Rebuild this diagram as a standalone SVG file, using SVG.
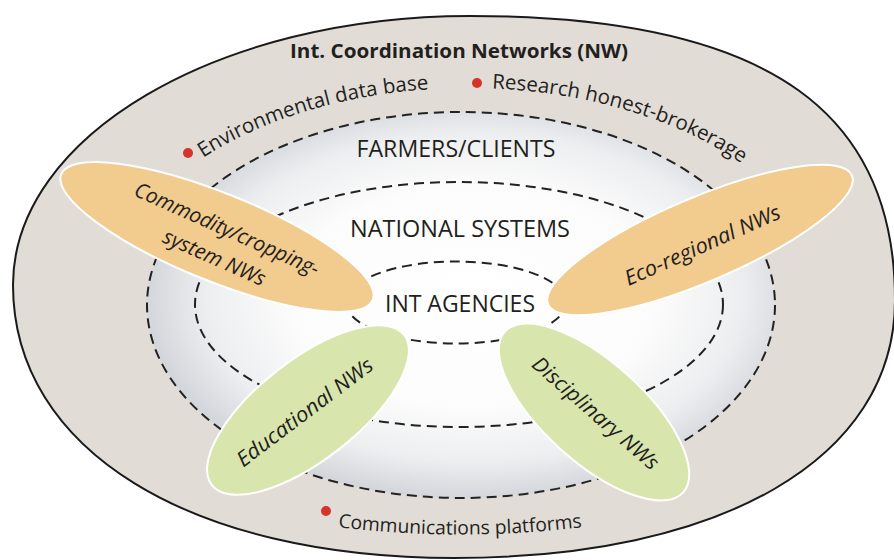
<svg xmlns="http://www.w3.org/2000/svg" width="894" height="560" viewBox="0 0 894 560">
<defs>
<radialGradient id="inner" cx="52%" cy="48%" r="52%">
<stop offset="0" stop-color="#ffffff"/>
<stop offset="0.55" stop-color="#fcfcfc"/>
<stop offset="0.82" stop-color="#edeef0"/>
<stop offset="1" stop-color="#d3d6db"/>
</radialGradient>
<path id="arcEnv" d="M 203,157.8 A 364 222 0 0 1 832,310"/>
<path id="arcRes" d="M 492,88.5 A 364 222 0 0 1 832,310"/>
<path id="arcCom" d="M 300,522 Q 460,547 620,522"/>
</defs>
<style>
.dash{fill:none;stroke:#222;stroke-width:2;stroke-dasharray:10 6}
.field{fill:url(#inner);stroke:none}
.lbl{font-family:"Open Sans","Liberation Sans",sans-serif;fill:#231f20}
.ring{font-size:23px;text-anchor:middle}
.arc{font-size:20.5px}
.arc.small{font-size:19.3px}
.nw{font-size:21px;font-style:italic;text-anchor:middle}
.orange{fill:#f2cb8e;stroke:#ffffff;stroke-width:2}
.green{fill:#d8e6ae;stroke:#ffffff;stroke-width:2}
.dot{fill:#d4342a}
</style>
<rect width="894" height="560" fill="#ffffff"/>
<g id="outer">
<path d="M 13,285 C 13,136 218,16 470,16 C 780,16 895,120 895,300 C 895,460 720,558 454,558 C 190,558 13,450 13,285 Z" fill="#e1ddd6" stroke="#1a1a1a" stroke-width="2"/>
<text class="lbl" x="459" y="58" font-size="20" font-weight="bold" text-anchor="middle" textLength="338" lengthAdjust="spacingAndGlyphs">Int. Coordination Networks (NW)</text>
<circle class="dot" cx="188" cy="153" r="5"/>
<circle class="dot" cx="477" cy="83" r="5"/>
<circle class="dot" cx="326" cy="511" r="5"/>
<text class="lbl arc"><textPath href="#arcEnv">Environmental data base</textPath></text>
<text class="lbl arc"><textPath href="#arcRes">Research honest-brokerage</textPath></text>
<text class="lbl arc small" text-anchor="middle"><textPath href="#arcCom" startOffset="50%">Communications platforms</textPath></text>
</g>
<g id="farmers">
<ellipse cx="461" cy="305" rx="314" ry="193" class="field"/>
<ellipse cx="461" cy="305" rx="314" ry="193" class="dash"/>
<text class="lbl ring" x="456" y="157" textLength="199" lengthAdjust="spacingAndGlyphs">FARMERS/CLIENTS</text>
</g>
<g id="national">
<ellipse cx="459" cy="304.5" rx="264" ry="122.5" class="dash"/>
<text class="lbl ring" x="460" y="237" textLength="220" lengthAdjust="spacingAndGlyphs">NATIONAL SYSTEMS</text>
</g>
<g id="agencies">
<ellipse cx="456" cy="302.5" rx="110" ry="41" class="dash"/>
<text class="lbl ring" x="460" y="312" textLength="150" lengthAdjust="spacingAndGlyphs">INT AGENCIES</text>
</g>
<g id="connectors"/>
<g id="commodity">
<ellipse cx="217" cy="237" rx="168" ry="44" transform="rotate(22 217 237)" class="orange"/>
<g transform="translate(217 237) rotate(24)">
<text class="lbl nw" x="6" y="-4" textLength="200" lengthAdjust="spacingAndGlyphs">Commodity/cropping-</text>
<text class="lbl nw" x="6" y="27" textLength="110" lengthAdjust="spacingAndGlyphs">system NWs</text>
</g>
</g>
<g id="ecoregional">
<ellipse cx="700" cy="240" rx="165" ry="42" transform="rotate(-23 700 240)" class="orange"/>
<text class="lbl nw" transform="translate(700 240) rotate(-24)" x="0" y="13" textLength="168" lengthAdjust="spacingAndGlyphs">Eco-regional NWs</text>
</g>
<g id="educational">
<ellipse cx="308" cy="410" rx="122" ry="50" transform="rotate(-38 308 410)" class="green"/>
<text class="lbl nw" transform="translate(308 410) rotate(-37)" x="-4" y="7" textLength="165" lengthAdjust="spacingAndGlyphs">Educational NWs</text>
</g>
<g id="disciplinary">
<ellipse cx="594" cy="412" rx="120" ry="50" transform="rotate(42 594 412)" class="green"/>
<text class="lbl nw" transform="translate(594 412) rotate(41)" x="2" y="7" textLength="160" lengthAdjust="spacingAndGlyphs">Disciplinary NWs</text>
</g>
</svg>
